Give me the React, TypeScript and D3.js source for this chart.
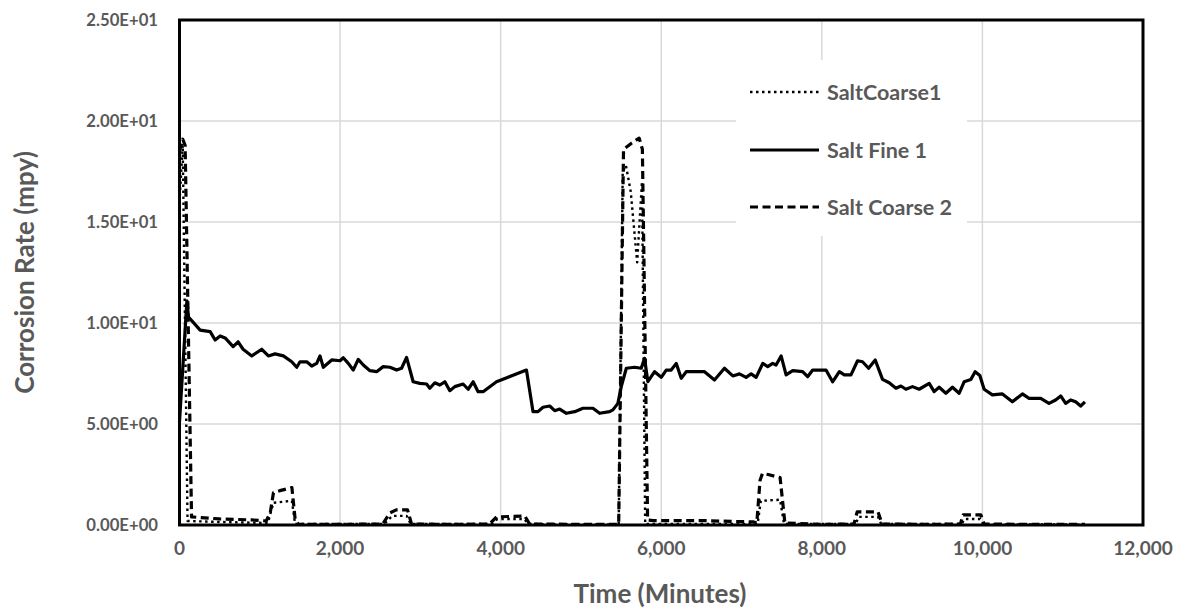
import React from "react";
import * as d3 from "d3";

type P = [number, number];

const fineTimes = [0, 92, 112, 257, 382, 444, 506, 568, 668, 730, 792, 900, 1025, 1107, 1190, 1294, 1398, 1460, 1501, 1585, 1647, 1709, 1750, 1791, 1896, 1999, 2040, 2102, 2164, 2226, 2289, 2372, 2455, 2537, 2621, 2704, 2766, 2828, 2910, 2994, 3077, 3118, 3180, 3242, 3305, 3367, 3429, 3532, 3595, 3657, 3719, 3781, 3948, 4321, 4403, 4465, 4527, 4611, 4673, 4735, 4818, 4922, 5025, 5149, 5233, 5357, 5398, 5460, 5502, 5565, 5668, 5751, 5792, 5833, 5917, 6000, 6062, 6124, 6187, 6249, 6311, 6435, 6539, 6663, 6787, 6891, 6974, 7057, 7119, 7182, 7264, 7326, 7388, 7430, 7493, 7555, 7637, 7761, 7823, 7886, 8052, 8134, 8218, 8280, 8363, 8445, 8507, 8582, 8665, 8756, 8839, 8923, 8985, 9047, 9129, 9212, 9337, 9399, 9461, 9545, 9627, 9710, 9772, 9856, 9909, 9968, 10021, 10124, 10249, 10373, 10498, 10581, 10726, 10829, 10912, 10975, 11037, 11099, 11161, 11223, 11277];
const fineValues = [5.1, 11.1, 10.3, 9.65, 9.57, 9.16, 9.36, 9.26, 8.83, 9.07, 8.7, 8.37, 8.7, 8.37, 8.47, 8.37, 8.08, 7.81, 8.08, 8.08, 7.87, 8.0, 8.37, 7.81, 8.17, 8.13, 8.28, 8.0, 7.67, 8.2, 7.92, 7.64, 7.59, 7.84, 7.81, 7.67, 7.76, 8.3, 7.09, 7.01, 6.98, 6.77, 7.04, 6.93, 7.09, 6.65, 6.85, 6.98, 6.72, 7.09, 6.6, 6.6, 7.09, 7.67, 5.61, 5.61, 5.83, 5.89, 5.66, 5.74, 5.53, 5.61, 5.78, 5.78, 5.53, 5.61, 5.7, 6.02, 6.85, 7.76, 7.81, 7.76, 8.25, 7.1, 7.59, 7.31, 7.67, 7.67, 8.0, 7.26, 7.59, 7.59, 7.59, 7.18, 7.76, 7.38, 7.48, 7.31, 7.48, 7.31, 8.0, 7.84, 8.0, 7.92, 8.37, 7.43, 7.64, 7.59, 7.34, 7.67, 7.67, 7.09, 7.59, 7.43, 7.43, 8.13, 8.08, 7.76, 8.17, 7.21, 7.04, 6.77, 6.88, 6.72, 6.85, 6.72, 7.01, 6.6, 6.82, 6.52, 6.82, 6.52, 7.09, 7.2, 7.59, 7.4, 6.72, 6.44, 6.49, 6.1, 6.49, 6.27, 6.27, 6.02, 6.19, 6.39, 6.02, 6.19, 6.1, 5.89, 6.1];

const coarse2Times = [0, 40, 70, 150, 500, 900, 1080, 1130, 1170, 1250, 1400, 1440, 1480, 2000, 2530, 2620, 2700, 2840, 2890, 3400, 3860, 3950, 4300, 4360, 5000, 5470, 5530, 5630, 5725, 5765, 5830, 5900, 6500, 7150, 7190, 7230, 7260, 7330, 7480, 7540, 8000, 8400, 8440, 8700, 8750, 9300, 9725, 9760, 9980, 10020, 10600, 11277];
const coarse2Values = [18.5, 19.1, 18.8, 0.4, 0.3, 0.25, 0.2, 0.6, 1.6, 1.7, 1.85, 0.3, 0.03, 0.03, 0.05, 0.6, 0.75, 0.75, 0.05, 0.03, 0.05, 0.4, 0.45, 0.05, 0.03, 0.03, 18.6, 18.9, 19.15, 18.6, 0.25, 0.22, 0.22, 0.15, 0.1, 2.2, 2.55, 2.5, 2.35, 0.1, 0.03, 0.05, 0.65, 0.65, 0.05, 0.03, 0.05, 0.5, 0.5, 0.05, 0.03, 0.03];

const coarse1Times = [0, 40, 100, 500, 1100, 1170, 1400, 1440, 2550, 2650, 2830, 2880, 3880, 3960, 4290, 4350, 5470, 5520, 5560, 5620, 5700, 5760, 5800, 7200, 7240, 7480, 7530, 8420, 8460, 8700, 8740, 9740, 9780, 9970, 10010, 11277];
const coarse1Values = [16.0, 18.8, 0.2, 0.15, 0.1, 1.1, 1.2, 0.05, 0.05, 0.45, 0.45, 0.05, 0.05, 0.3, 0.3, 0.05, 0.02, 17.5, 17.8, 16.5, 13.0, 17.0, 0.05, 0.05, 1.2, 1.25, 0.05, 0.05, 0.4, 0.4, 0.05, 0.05, 0.3, 0.3, 0.03, 0.02];

const xTicks = [0, 2000, 4000, 6000, 8000, 10000, 12000];
const yTicks = [0, 5, 10, 15, 20, 25];
const seriesNames = ["SaltCoarse1", "Salt Fine 1", "Salt Coarse 2"];

const zip = (t: number[], v: number[]): P[] => t.map((x, i) => [x, v[i]]);

export default function App() {
  const W = 1190, H = 612;
  const left = 179.5, right = 1143, top = 20, bottom = 525;
  const x = d3.scaleLinear().domain([0, 12000]).range([left, right]);
  const y = d3.scaleLinear().domain([0, 25]).range([bottom, top]);
  const line = d3.line<P>().x(d => x(d[0])).y(d => y(d[1]));
  const font = "Lato, 'Open Sans', sans-serif";
  const gray = "#595959";
  const grid = "#d9d9d9";

  const series = [
    { name: seriesNames[0], data: zip(coarse1Times, coarse1Values), dash: "2.5,3.5", w: 2.4 },
    { name: seriesNames[1], data: zip(fineTimes, fineValues), dash: "", w: 3.2 },
    { name: seriesNames[2], data: zip(coarse2Times, coarse2Values), dash: "8,4.5", w: 3.2 },
  ];

  const fmtY = (v: number) => {
    if (v === 0) return "0.00E+00";
    const e = Math.floor(Math.log10(v));
    const m = v / Math.pow(10, e);
    return `${m.toFixed(2)}E+${String(e).padStart(2, "0")}`;
  };
  const fmtX = d3.format(",");

  const legX = 750, legY = [92, 150, 207];

  return (
    <svg width={W} height={H} style={{ position: "absolute", left: 0, top: 0, background: "#fff" }}>
      <rect x={0} y={0} width={W} height={H} fill="#fff" />
      {xTicks.slice(1, -1).map(t => (
        <line key={"gx" + t} x1={x(t)} x2={x(t)} y1={top} y2={bottom} stroke={grid} strokeWidth={1.5} />
      ))}
      {yTicks.slice(1, -1).map(t => (
        <line key={"gy" + t} x1={left} x2={right} y1={y(t)} y2={y(t)} stroke={grid} strokeWidth={1.5} />
      ))}
      <rect x={736} y={60} width={231} height={176} fill="#fff" />
      {series.map(s => (
        <path key={s.name} d={line(s.data) || ""} fill="none" stroke="#000" strokeWidth={s.w}
          strokeDasharray={s.dash || undefined} strokeLinejoin="round" />
      ))}
      <rect x={left} y={top} width={right - left} height={bottom - top} fill="none" stroke="#000" strokeWidth={3} />
      {yTicks.map(t => (
        <text key={"ty" + t} x={158} y={y(t)} dy="0.35em" textAnchor="end" fontFamily={font}
          fontWeight="bold" fontSize={16.7} fill={gray}>{fmtY(t)}</text>
      ))}
      {xTicks.map(t => (
        <text key={"tx" + t} x={x(t)} y={555} textAnchor="middle" fontFamily={font}
          fontWeight="bold" fontSize={19} fill={gray}>{fmtX(t)}</text>
      ))}
      <text x={660} y={603} textAnchor="middle" fontFamily={font} fontWeight="bold" fontSize={26} fill={gray}>
        Time (Minutes)
      </text>
      <text transform={`translate(34,${(top + bottom) / 2}) rotate(-90)`} textAnchor="middle" fontFamily={font}
        fontWeight="bold" fontSize={26} fill={gray}>Corrosion Rate (mpy)</text>
      {series.map((s, i) => (
        <g key={"lg" + s.name}>
          <line x1={legX} x2={legX + 69} y1={legY[i]} y2={legY[i]} stroke="#000" strokeWidth={s.w}
            strokeDasharray={s.dash || undefined} />
          <text x={827} y={legY[i]} dy="0.35em" fontFamily={font} fontWeight="bold" fontSize={21.5} fill={gray}>
            {s.name}
          </text>
        </g>
      ))}
    </svg>
  );
}
